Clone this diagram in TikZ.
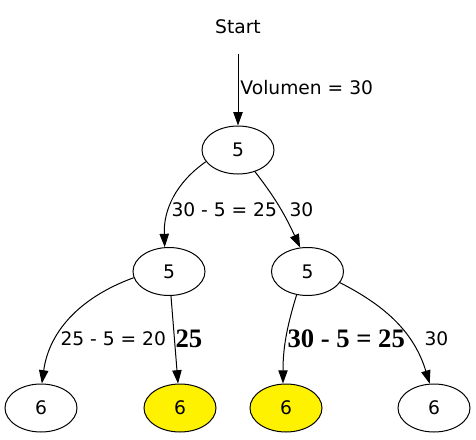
\documentclass[tikz,border=0pt]{standalone}
\usepackage{fontspec}
\setmainfont{DejaVu Sans}
\newfontfamily\lserif{Liberation Serif}
\usetikzlibrary{shapes,arrows.meta}
\tikzset{%
	state/.style={%
		ellipse,
		draw,
		minimum width=54pt,
		minimum height=36pt,
		inner sep=0pt,
		font=\fontsize{14}{17}\selectfont
	},
	pick/.style={state, fill=yellow},
	lbl/.style={anchor=west, inner sep=0pt, font=\fontsize{14}{17}\selectfont},
	bold lbl/.style={lbl, font=\fontsize{20}{24}\selectfont\lserif\bfseries}
}

\begin{document}
\begin{tikzpicture}[x=0.75pt, y=0.75pt, line width=0.75pt, >={Triangle[length=10pt,width=7pt]}]
	\useasboundingbox (0,0) rectangle (476,-440);
	\node [inner sep=0pt, minimum height=39pt, font=\fontsize{14}{17}\selectfont] (start) at (238,-27) {Start};
	\node [state] (root) at (238,-150) {5};
	\node [state] (left) at (169,-271.5) {5};
	\node [state] (right) at (307.5,-271.5) {5};
	\node [state] (ll) at (41,-408) {6};
	\node [pick] (lr) at (180,-408) {6};
	\node [pick] (rl) at (286,-408) {6};
	\node [state] (rr) at (434,-408) {6};

	\draw [->] (start) -- (root);
	\draw [->] (root.200) to[out=215, in=92] (left.100);
	\draw [->] (root.-52) to[out=-52, in=115] (right.107);
	\draw [->] (left.190) to[out=200, in=82] (ll.88);
	\draw [->] (left) -- (lr);
	\draw [->] (right.245) to[out=253, in=90] (rl.97);
	\draw [->] (right.-19) to[out=-27, in=107] (rr.100);

	\node [lbl] (l0) at (240,-88) {Volumen = 30};
	\node [lbl] (l1) at (171,-210) {30 - 5 = 25};
	\node [lbl] (l2) at (289,-210) {30};
	\node [lbl] (l3) at (60,-339) {25 - 5 = 20};
	\node [bold lbl] (l4) at (175,-339) {25};
	\node [bold lbl] (l5) at (287,-339) {30 - 5 = 25};
	\node [lbl] (l6) at (424,-339) {30};
\end{tikzpicture}
\end{document}
